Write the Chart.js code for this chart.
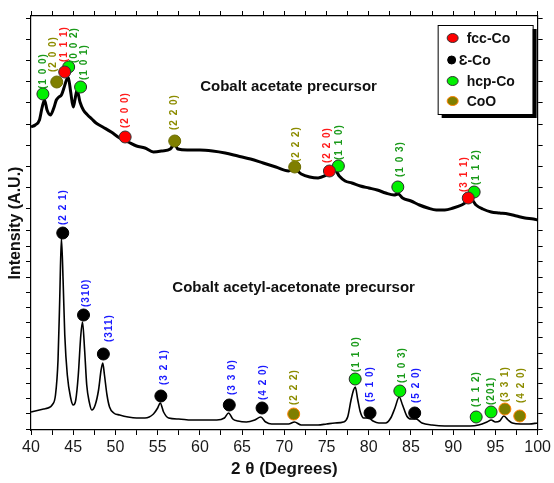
<!DOCTYPE html>
<html>
<head>
<meta charset="utf-8">
<script src="https://cdn.jsdelivr.net/npm/chart.js@4.4.0/dist/chart.umd.min.js"></script>
<style>
    html, body { margin: 0; padding: 0; background: #fff; }
    #wrap { width: 554px; height: 483px; position: relative; }
</style>
</head>
<body>
<div id="wrap"><canvas id="xrd"></canvas></div>
<script>
// 2-theta positions and intensity (arbitrary units)
const acetateTheta = [40.0, 40.5, 41.0, 41.3, 41.6, 41.9, 42.3, 42.7, 43.0, 43.3, 43.6, 43.9, 44.2, 44.4, 44.7, 45.0, 45.2, 45.45, 45.8, 46.2,
    46.7, 47.2, 47.7, 48.5, 49.5, 50.5, 51.5, 52.5, 53.5, 54.5, 55.5, 56.5, 57.0, 57.4, 58.5, 60, 61.5, 63, 64.5, 66,
    67.5, 69, 70.5, 71.2, 72, 73, 74, 75, 75.6, 76.0, 76.5, 77.2, 78, 79, 80, 81, 82, 83, 83.5, 84,
    85, 86, 87, 88, 89, 90, 91, 91.8, 92.2, 92.7, 93.5, 94.5, 95.5, 96.5, 97.5, 98.5, 99.5, 100];
const acetateCounts = [303, 305, 310, 322, 330, 320, 315, 322, 330, 333, 335, 342, 350, 353, 338, 323, 330, 340, 328, 320,
    315, 311, 307, 303, 298, 292, 288, 284, 282, 278, 279, 281, 286, 281, 280, 280, 279, 277, 274, 271,
    267, 263, 259, 261, 256, 253, 252, 255, 258, 260, 254, 249, 247, 244, 242, 240, 237, 235, 236, 232,
    229, 225, 222, 220, 220, 222, 225, 229, 230, 225, 221, 218, 217, 216, 214, 212, 211, 210];

const acacTheta = [40.0, 40.5, 41.0, 41.5, 42.0, 42.5, 42.9, 43.2, 43.4, 43.6, 43.8, 44.0, 44.3, 44.7, 45.0, 45.3, 45.6, 45.9, 46.1, 46.35,
    46.6, 46.9, 47.2, 47.6, 48.0, 48.3, 48.5, 48.7, 49.0, 49.3, 49.8, 50.5, 51.5, 52.5, 53.5, 54.5, 55.0, 55.3, 55.7, 56.3,
    57.5, 59, 60.5, 62, 62.9, 63.4, 63.9, 64.5, 65.5, 66.5, 67.2, 67.8, 68.5, 69.5, 70.5, 71.2, 72, 73, 74, 75,
    76, 77, 77.5, 77.9, 78.2, 78.4, 78.7, 79.0, 79.4, 80.0, 80.5, 81.2, 82.0, 82.6, 83.1, 83.6, 84.0, 84.5, 85.0, 85.6,
    86.3, 87.5, 89, 90.5, 92, 93, 94.0, 94.5, 95.0, 95.5, 96.0, 96.5, 97.0, 98, 99, 100];
const acacCounts = [18, 19, 20, 21, 22, 25, 35, 70, 130, 192, 150, 95, 55, 32, 25, 30, 55, 95, 108, 80,
    45, 28, 20, 25, 40, 60, 67, 55, 35, 23, 17, 15, 13, 12, 12, 16, 22, 27, 18, 12,
    11, 10, 10, 10, 12, 17, 11, 9, 8, 10, 13, 8, 6, 6, 6, 8, 5, 5, 5, 6,
    7, 8, 13, 30, 40, 43, 30, 18, 12, 12, 9, 7, 7, 12, 22, 33, 25, 14, 11, 11,
    7, 5, 4, 4, 4, 5, 8, 10, 8, 9, 14, 10, 7, 6, 6, 7];

const phases = ['fcc-Co', 'Ɛ-Co', 'hcp-Co', 'CoO'];

// phase index, hkl, marker (2θ, intensity), label anchor (2θ, intensity)
const acetatePeaks = [
    [2, '(1 0 0)', 41.41, 336, 41.41, 341],
    [3, '(2 0 0)', 43.05, 348, 42.58, 358],
    [0, '(1 1 1)', 43.99, 358, 43.99, 368],
    [2, '(0 0 2)', 44.46, 363, 45.17, 367],
    [2, '(1 0 1)', 45.87, 343, 46.34, 350],
    [0, '(2 0 0)', 51.15, 293, 51.15, 302],
    [3, '(2 2 0)', 57.02, 289, 57.02, 300],
    [3, '(2 2 2)', 71.23, 263, 71.47, 268],
    [0, '(2 2 0)', 75.34, 259, 75.11, 267],
    [2, '(1 1 0)', 76.40, 264, 76.52, 270],
    [2, '(1 0 3)', 83.44, 243, 83.68, 253],
    [0, '(3 1 1)', 91.78, 232, 91.31, 238],
    [2, '(1 1 2)', 92.48, 238, 92.72, 245]
];
const acacPeaks = [
    [1, '(2 2 1)', 43.76, 197, 43.76, 205],
    [1, '(310)', 46.22, 115, 46.58, 123],
    [1, '(311)', 48.57, 76, 49.28, 88],
    [1, '(3 2 1)', 55.38, 34, 55.73, 45],
    [1, '(3 3 0)', 63.48, 25, 63.83, 35],
    [1, '(4 2 0)', 67.36, 22, 67.47, 30],
    [3, '(2 2 2)', 71.11, 16, 71.23, 25],
    [2, '(1 1 0)', 78.39, 51, 78.51, 58],
    [1, '(5 1 0)', 80.15, 17, 80.15, 28],
    [2, '(1 0 3)', 83.68, 39, 83.91, 47],
    [1, '(5 2 0)', 85.44, 17, 85.67, 27],
    [2, '(1 1 2)', 92.72, 13, 92.72, 23],
    [2, '(201)', 94.48, 18, 94.48, 25],
    [3, '(3 3 1)', 96.12, 21, 96.12, 28],
    [3, '(4 2 0)', 97.88, 14, 98.0, 27]
];

// sample captions, anchored at (2θ, intensity)
const captions = [
    ['Cobalt acetate precursor', 70.5, 343],
    ['Cobalt acetyl-acetonate precursor', 71.1, 142]
];

const FONT = "Arial, 'Liberation Sans', sans-serif";
const markFill = ['#ff0000', '#000000', '#00f000', '#7f7f00'];
const markEdge = ['#333333', '#000000', '#2a2a2a', '#6b6b00'];
const labelColor = ['#ff1a1a', '#1a1aff', '#1a9a1a', '#8c8c00'];

const yTicks = [];
for (let i = 0; i < 13; i++) yTicks.push(1 + i * 15.2);
for (let i = 0; i < 11; i++) yTicks.push(200 + i * 21.2);

const toPoints = (xs, ys) => xs.map((x, i) => ({ x: x, y: ys[i] }));

const markerSets = (peaks, edgeOverride) => {
    const sets = [];
    phases.forEach((name, p) => {
        const pts = peaks.filter(v => v[0] === p);
        if (pts.length === 0) return;
        sets.push({
            type: 'line',
            label: name,
            data: pts.map(v => ({ x: v[2], y: v[3] })),
            showLine: false,
            pointRadius: 6,
            pointBorderWidth: 1,
            pointBackgroundColor: markFill[p],
            pointBorderColor: (edgeOverride && edgeOverride[p]) || markEdge[p],
            order: 1
        });
    });
    return sets;
};

const peakLabels = {
    id: 'peakLabels',
    afterDatasetsDraw(chart) {
        const { ctx, scales: { x, y } } = chart;
        ctx.save();
        ctx.font = 'bold 10px ' + FONT;
        ctx.letterSpacing = '1px';
        ctx.textAlign = 'left';
        ctx.textBaseline = 'middle';
        [...acetatePeaks, ...acacPeaks].forEach(v => {
            ctx.save();
            ctx.translate(x.getPixelForValue(v[4]), y.getPixelForValue(v[5]));
            ctx.rotate(-Math.PI / 2);
            ctx.fillStyle = labelColor[v[0]];
            ctx.fillText(v[1], 0, 0);
            ctx.restore();
        });
        ctx.letterSpacing = '0px';
        ctx.font = 'bold 15px ' + FONT;
        ctx.fillStyle = '#111';
        ctx.textAlign = 'center';
        captions.forEach(c => {
            ctx.fillText(c[0], x.getPixelForValue(c[1]), y.getPixelForValue(c[2]));
        });
        ctx.restore();
    }
};

const phaseLegend = {
    id: 'phaseLegend',
    afterDraw(chart) {
        const { ctx, chartArea } = chart;
        const left = chartArea.right - 100, top = chartArea.top + 9;
        const w = 95, h = 89;
        ctx.save();
        ctx.fillStyle = '#000';
        ctx.fillRect(left + 4, top + 4, w, h);
        ctx.fillStyle = '#fff';
        ctx.fillRect(left, top, w, h);
        ctx.strokeStyle = '#000';
        ctx.lineWidth = 1;
        ctx.strokeRect(left + 0.5, top + 0.5, w, h);
        const rows = [13, 35, 56, 76];
        const edges = ['#333', '#000', '#333', '#ff8000'];
        ctx.font = 'bold 14px ' + FONT;
        ctx.textBaseline = 'middle';
        phases.forEach((name, p) => {
            const cy = top + rows[p];
            ctx.beginPath();
            if (p === 1) ctx.arc(left + 14, cy, 4, 0, Math.PI * 2);
            else ctx.ellipse(left + 15, cy, 5.5, 4.5, 0, 0, Math.PI * 2);
            ctx.fillStyle = markFill[p];
            ctx.fill();
            ctx.strokeStyle = edges[p];
            ctx.stroke();
            ctx.fillStyle = '#111';
            ctx.fillText(name, left + (p === 1 ? 21 : 29), cy + 1);
        });
        ctx.restore();
    }
};

const axisCommon = {
    type: 'linear',
    border: { display: true, color: '#000', width: 1.2 },
    grid: { drawOnChartArea: false, tickLength: 5, tickColor: '#000', tickWidth: 1 }
};

new Chart(document.getElementById('xrd'), {
    type: 'line',
    data: {
        datasets: [
            ...markerSets(acetatePeaks),
            ...markerSets(acacPeaks, { 3: '#ff8000' }),
            {
                label: 'Cobalt acetate',
                data: toPoints(acetateTheta, acetateCounts),
                borderColor: '#000',
                borderWidth: 3,
                pointRadius: 0,
                cubicInterpolationMode: 'monotone',
                order: 10
            },
            {
                label: 'Cobalt acetyl-acetonate',
                data: toPoints(acacTheta, acacCounts),
                borderColor: '#000',
                borderWidth: 1.6,
                pointRadius: 0,
                cubicInterpolationMode: 'monotone',
                order: 10
            }
        ]
    },
    options: {
        responsive: true,
        maintainAspectRatio: false,
        animation: false,
        layout: { padding: 0 },
        plugins: { legend: { display: false }, tooltip: { enabled: false } },
        scales: {
            x: {
                ...axisCommon,
                position: 'bottom',
                min: 40,
                max: 100,
                afterFit: s => { s.height = 53; },
                ticks: {
                    stepSize: 2.5,
                    autoSkip: false,
                    maxRotation: 0,
                    padding: 3,
                    color: '#1a1a1a',
                    font: { family: FONT, size: 16 },
                    callback: v => (v % 5 === 0 ? v : '')
                },
                title: {
                    display: true,
                    text: '2 θ (Degrees)',
                    color: '#111',
                    font: { family: FONT, size: 17, weight: 'bold' },
                    padding: { top: 0, bottom: 3 }
                }
            },
            x2: {
                ...axisCommon,
                position: 'top',
                min: 40,
                max: 100,
                afterFit: s => { s.height = 16; },
                ticks: { display: false, stepSize: 2.5 }
            },
            y: {
                ...axisCommon,
                position: 'left',
                min: 0,
                max: 414,
                afterFit: s => { s.width = 31; },
                afterBuildTicks: s => { s.ticks = yTicks.map(v => ({ value: v })); },
                ticks: { display: false },
                title: {
                    display: true,
                    text: 'Intensity (A.U.)',
                    color: '#111',
                    font: { family: FONT, size: 16, weight: 'bold' },
                    padding: { top: 6, bottom: 0 }
                }
            },
            y2: {
                ...axisCommon,
                position: 'right',
                min: 0,
                max: 414,
                afterFit: s => { s.width = 12; },
                afterBuildTicks: s => { s.ticks = yTicks.map(v => ({ value: v })); },
                ticks: { display: false }
            }
        }
    },
    plugins: [peakLabels, phaseLegend]
});
</script>
</body>
</html>
